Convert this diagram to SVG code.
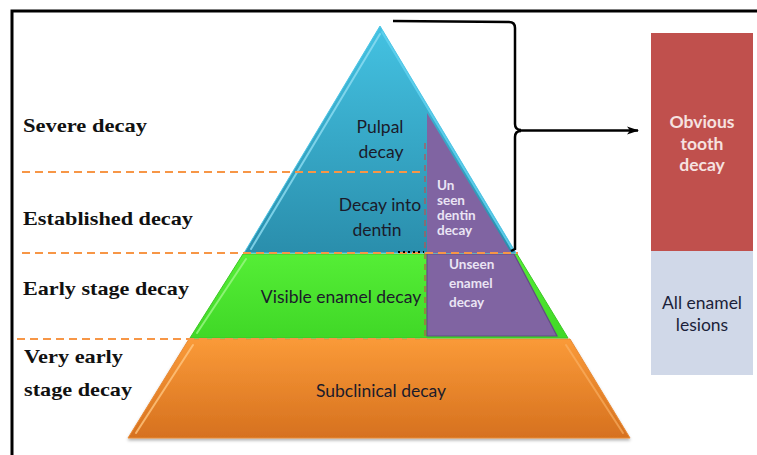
<svg xmlns="http://www.w3.org/2000/svg" width="757" height="455" viewBox="0 0 757 455">
  <defs>
    <linearGradient id="gBlue" x1="0" y1="0" x2="0" y2="1">
      <stop offset="0" stop-color="#44C2E2"/>
      <stop offset="1" stop-color="#2A8EAC"/>
    </linearGradient>
    <linearGradient id="gGreen" x1="0" y1="0" x2="0" y2="1">
      <stop offset="0" stop-color="#55EE36"/>
      <stop offset="1" stop-color="#40D827"/>
    </linearGradient>
    <linearGradient id="gOrange" x1="0" y1="0" x2="0" y2="1">
      <stop offset="0" stop-color="#FA9A38"/>
      <stop offset="1" stop-color="#D6711F"/>
    </linearGradient>
    <marker id="arrow" markerWidth="12" markerHeight="10" refX="11" refY="5" orient="auto" markerUnits="userSpaceOnUse">
      <path d="M0,1 L12,5 L0,9 L3,5 Z" fill="#000"/>
    </marker>
    <filter id="shadow" x="-5%" y="-5%" width="110%" height="115%">
      <feDropShadow dx="0" dy="2" stdDeviation="1.5" flood-color="#000" flood-opacity="0.3"/>
    </filter>
  </defs>
  <style>
    .stage { font-family: "Liberation Serif", "Times New Roman", serif; font-weight: bold; font-size: 19px; fill: #111; }
    .tier { font-family: Lato, "Open Sans", "DejaVu Sans", sans-serif; font-size: 17.5px; fill: #1B1B2A; text-anchor: middle; }
    .unseen { font-family: Lato, "Open Sans", "DejaVu Sans", sans-serif; font-size: 13.5px; fill: #EAE4F4; font-weight: bold; }
    .box { font-family: Lato, "Open Sans", "DejaVu Sans", sans-serif; font-size: 17.5px; text-anchor: middle; }
    .band { stroke: #F79646; stroke-width: 2; stroke-dasharray: 8 5; fill: none; }
    .split { stroke: #C0504D; stroke-width: 1.2; stroke-dasharray: 6 5; fill: none; }
    .bevel { fill: none; stroke-width: 2; stroke-linecap: round; }
  </style>

  <rect width="757" height="455" fill="#FFFFFF"/>

  <!-- outer frame, runs off the right and bottom edges -->
  <rect x="12" y="11" width="760" height="460" fill="none" stroke="#000" stroke-width="3"/>

  <!-- bottom tier: subclinical -->
  <g id="tier-subclinical">
    <polygon points="189,339 570,339 630,438 128,438" fill="url(#gOrange)" stroke="#E88A35" stroke-width="1" filter="url(#shadow)"/>
    <path class="bevel" d="M193,345 L136,433" stroke="#FFC67F" opacity="0.8"/>
    <path class="bevel" d="M566,345 L623,433" stroke="#FBB56A" opacity="0.6"/>
    <text class="tier" x="381" y="397">Subclinical decay</text>
  </g>

  <!-- third tier: enamel -->
  <g id="tier-enamel">
    <polygon points="243,254 517,254 568,338 190,338" fill="url(#gGreen)" stroke="#3CC624" stroke-width="1"/>
    <path class="bevel" d="M246,259 L197,333" stroke="#9CF886" opacity="0.8"/>
    <polygon points="427,254 514,254 557,336 427,336" fill="#8064A2" stroke="#634A85" stroke-width="1.2"/>
    <text class="tier" x="341" y="303">Visible enamel decay</text>
    <text class="unseen" x="449" y="269">Unseen</text>
    <text class="unseen" x="449" y="288">enamel</text>
    <text class="unseen" x="449" y="307">decay</text>
  </g>

  <!-- top triangle: dentin and pulp -->
  <g id="tier-dentin">
    <polygon points="380,26 516,253 244,253" fill="url(#gBlue)" stroke="#4FC6E6" stroke-width="1"/>
    <path class="bevel" d="M380,34 L251,249" stroke="#8FDDF2" opacity="0.8"/>
    <path class="bevel" d="M382,32 L512,249" stroke="#5FD0EE" opacity="0.9"/>
    <polygon points="427,113 511,253 427,253" fill="#8064A2"/>
    <text class="tier" x="380" y="133">Pulpal</text>
    <text class="tier" x="381" y="158">decay</text>
    <text class="tier" x="380" y="211">Decay into</text>
    <text class="tier" x="377" y="236">dentin</text>
    <text class="unseen" x="437" y="190">Un</text>
    <text class="unseen" x="437" y="205">seen</text>
    <text class="unseen" x="437" y="220">dentin</text>
    <text class="unseen" x="437" y="235">decay</text>
  </g>

  <!-- visible / hidden split and stage boundaries -->
  <g id="boundaries">
    <line class="split" x1="425" y1="143" x2="425" y2="337"/>
    <line class="band" x1="22" y1="172" x2="425" y2="172"/>
    <line class="band" x1="22" y1="253" x2="518" y2="253"/>
    <line class="band" x1="17" y1="339" x2="427" y2="339"/>
    <line x1="398" y1="252" x2="424" y2="252" stroke="#000" stroke-width="2" stroke-dasharray="2 3"/>
  </g>

  <!-- stage labels -->
  <g id="stage-labels">
    <text class="stage" x="23" y="132" textLength="124" lengthAdjust="spacingAndGlyphs">Severe decay</text>
    <text class="stage" x="23" y="225" textLength="170" lengthAdjust="spacingAndGlyphs">Established decay</text>
    <text class="stage" x="23" y="295" textLength="166" lengthAdjust="spacingAndGlyphs">Early stage decay</text>
    <text class="stage" x="24" y="363" textLength="99" lengthAdjust="spacingAndGlyphs">Very early</text>
    <text class="stage" x="24" y="396" textLength="108" lengthAdjust="spacingAndGlyphs">stage decay</text>
  </g>

  <!-- brace gathering the upper tiers, pointing to the result box -->
  <g id="connectors" fill="none" stroke="#000" stroke-width="2.5">
    <path d="M393,21 L509,22 Q515,22 515,28 L515,124 Q515,130 521,130"/>
    <path d="M521,131 Q515,131 515,137 L515,249 L511,251"/>
    <path d="M519,130.5 L638,130.5" marker-end="url(#arrow)"/>
  </g>

  <!-- result boxes -->
  <g id="box-obvious">
    <rect x="651" y="33" width="102" height="218" fill="#C0504D"/>
    <text class="box" x="702" y="128" fill="#F6E2E0" font-weight="bold">Obvious</text>
    <text class="box" x="702" y="150" fill="#F6E2E0" font-weight="bold">tooth</text>
    <text class="box" x="702" y="171" fill="#F6E2E0" font-weight="bold">decay</text>
  </g>
  <g id="box-enamel">
    <rect x="651" y="251" width="102" height="124" fill="#D0D8E8"/>
    <text class="box" x="702" y="309" fill="#1B1F3A">All enamel</text>
    <text class="box" x="702" y="331" fill="#1B1F3A">lesions</text>
  </g>
</svg>
